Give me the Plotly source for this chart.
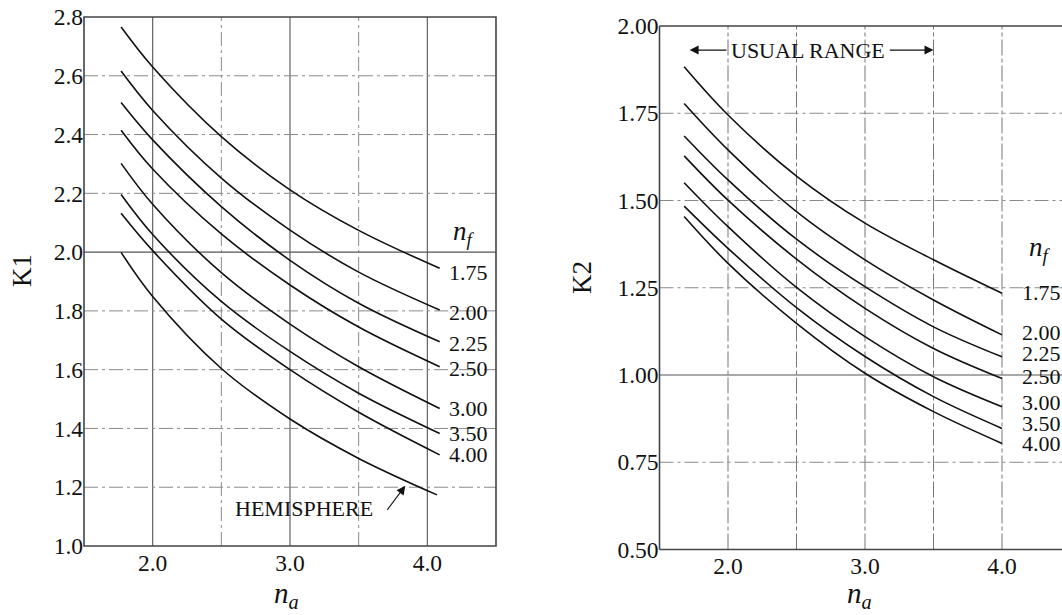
import plotly.graph_objects as go

# ---------------- data ----------------
nf_labels = ["1.75", "2.00", "2.25", "2.50", "3.00", "3.50", "4.00"]

# Left chart: K1 vs n_a
na_k1 = [1.77, 2.0, 2.5, 3.0, 3.5, 4.09]
k1_nf175 = [2.766, 2.630, 2.393, 2.212, 2.074, 1.945]
k1_nf200 = [2.616, 2.482, 2.252, 2.075, 1.932, 1.803]
k1_nf225 = [2.509, 2.382, 2.155, 1.972, 1.826, 1.695]
k1_nf250 = [2.415, 2.283, 2.062, 1.888, 1.745, 1.610]
k1_nf300 = [2.302, 2.163, 1.930, 1.755, 1.610, 1.468]
k1_nf350 = [2.196, 2.060, 1.832, 1.662, 1.520, 1.383]
k1_nf400 = [2.132, 2.005, 1.772, 1.600, 1.455, 1.310]
na_hemi = [1.77, 2.0, 2.5, 3.0, 3.5, 4.07]
k1_hemi = [1.999, 1.849, 1.604, 1.432, 1.298, 1.174]

# Right chart: K2 vs n_a
na_k2 = [1.68, 2.0, 2.5, 3.0, 3.5, 4.0]
k2_nf175 = [1.883, 1.745, 1.570, 1.435, 1.330, 1.234]
k2_nf200 = [1.778, 1.645, 1.468, 1.330, 1.215, 1.115]
k2_nf225 = [1.685, 1.559, 1.389, 1.253, 1.138, 1.052]
k2_nf250 = [1.628, 1.501, 1.332, 1.191, 1.076, 0.990]
k2_nf300 = [1.551, 1.425, 1.251, 1.110, 0.995, 0.909]
k2_nf350 = [1.484, 1.363, 1.193, 1.053, 0.938, 0.847]
k2_nf400 = [1.454, 1.320, 1.148, 1.005, 0.895, 0.804]

x_ticks = [2.0, 3.0, 4.0]
k1_ticks = [1.0, 1.2, 1.4, 1.6, 1.8, 2.0, 2.2, 2.4, 2.6, 2.8]
k2_ticks = [0.50, 0.75, 1.00, 1.25, 1.50, 1.75, 2.00]

k1_series = [k1_nf175, k1_nf200, k1_nf225, k1_nf250, k1_nf300, k1_nf350, k1_nf400]
k2_series = [k2_nf175, k2_nf200, k2_nf225, k2_nf250, k2_nf300, k2_nf350, k2_nf400]

# ---------------- styling / layout ----------------
FONT = "Liberation Serif"
INK = "#111111"
W, H = 1062, 615

label_y_k1 = [1.932, 1.793, 1.690, 1.605, 1.469, 1.384, 1.310]
label_y_k2 = [1.235, 1.123, 1.063, 0.997, 0.920, 0.862, 0.805]

fig = go.Figure()

line_style = dict(color=INK, width=1.6, shape="spline", smoothing=1.0)
for ys, lab in zip(k1_series, nf_labels):
    fig.add_trace(go.Scatter(x=na_k1, y=ys, mode="lines", line=line_style,
                             name=lab, xaxis="x", yaxis="y", showlegend=False,
                             hoverinfo="skip"))
fig.add_trace(go.Scatter(x=na_hemi, y=k1_hemi, mode="lines", line=line_style,
                         name="Hemisphere", xaxis="x", yaxis="y",
                         showlegend=False, hoverinfo="skip"))
for ys, lab in zip(k2_series, nf_labels):
    fig.add_trace(go.Scatter(x=na_k2, y=ys, mode="lines", line=line_style,
                             name=lab, xaxis="x2", yaxis="y2", showlegend=False,
                             hoverinfo="skip"))

# axes geometry
x1_dom = [84 / W, 496 / W]
y1_dom = [1 - 546 / H, 1 - 17 / H]
x2_dom = [659.5 / W, 1.0]
y2_dom = [1 - 549.5 / H, 1 - 26 / H]
x2_max = 1.5 + 402.5 / 137.0

tickfont = dict(family=FONT, size=23.5, color=INK)
common = dict(showgrid=False, zeroline=False, ticks="", automargin=False,
              tickfont=tickfont, showline=False)

fig.update_layout(
    width=W, height=H,
    margin=dict(l=0, r=0, t=0, b=0),
    paper_bgcolor="white", plot_bgcolor="white",
    xaxis=dict(domain=x1_dom, range=[1.5, 4.5], anchor="y",
               tickvals=x_ticks, ticktext=[f"{v:.1f}" for v in x_ticks], **common),
    yaxis=dict(domain=y1_dom, range=[1.0, 2.8], anchor="x",
               tickvals=k1_ticks, ticktext=[f"{v:.1f}" for v in k1_ticks], **common),
    xaxis2=dict(domain=x2_dom, range=[1.5, x2_max], anchor="y2",
                tickvals=x_ticks, ticktext=[f"{v:.1f}" for v in x_ticks], **common),
    yaxis2=dict(domain=y2_dom, range=[0.5, 2.0], anchor="x2",
                tickvals=k2_ticks, ticktext=[f"{v:.2f}" for v in k2_ticks], **common),
)

shapes = []
SOLID = dict(color="#555555", width=1.1)
DASH = dict(color="#8a8a8a", width=1, dash="14px,4px,3px,4px")

# left chart grid
for xv in [2.0, 2.5, 3.0, 3.5, 4.0]:
    st = SOLID if xv in (2.0, 3.0, 4.0) else DASH
    shapes.append(dict(type="line", xref="x", yref="y", x0=xv, x1=xv, y0=1.0, y1=2.8,
                       line=st, layer="below"))
for yv in [1.2, 1.4, 1.6, 1.8, 2.0, 2.2, 2.4, 2.6]:
    st = SOLID if abs(yv - 2.0) < 1e-9 else DASH
    shapes.append(dict(type="line", xref="x", yref="y", x0=1.5, x1=4.5, y0=yv, y1=yv,
                       line=st, layer="below"))
shapes.append(dict(type="rect", xref="x domain", yref="y domain", x0=0, x1=1, y0=0, y1=1,
                   line=dict(color="#444444", width=1.6), layer="above"))

# right chart grid
for xv in [2.0, 2.5, 3.0, 3.5, 4.0]:
    shapes.append(dict(type="line", xref="x2", yref="y2", x0=xv, x1=xv, y0=0.5, y1=2.0,
                       line=dict(color="#777777", width=1, dash="16px,3px,4px,3px"),
                       layer="below"))
for yv in [0.75, 1.0, 1.25, 1.5, 1.75]:
    st = SOLID if abs(yv - 1.0) < 1e-9 else DASH
    shapes.append(dict(type="line", xref="x2", yref="y2", x0=1.5, x1=x2_max, y0=yv, y1=yv,
                       line=st, layer="below"))
border2 = dict(color="#444444", width=1.6)
shapes.append(dict(type="line", xref="x2 domain", yref="y2 domain", x0=0, x1=0, y0=0, y1=1, line=border2))
shapes.append(dict(type="line", xref="x2 domain", yref="y2 domain", x0=0, x1=1, y0=0, y1=0, line=border2))
shapes.append(dict(type="line", xref="x2 domain", yref="y2 domain", x0=0, x1=1, y0=1, y1=1, line=border2))
fig.update_layout(shapes=shapes)

ann = []
lab_font = dict(family=FONT, size=22, color=INK)
for lab, yv in zip(nf_labels, label_y_k1):
    ann.append(dict(x=4.14, y=yv, xref="x", yref="y", text=lab, showarrow=False,
                    xanchor="left", yanchor="middle", font=lab_font))
for lab, yv in zip(nf_labels, label_y_k2):
    ann.append(dict(x=4.13, y=yv, xref="x2", yref="y2", text=lab, showarrow=False,
                    xanchor="left", yanchor="middle", font=lab_font))

nf_text = "<i>n</i><sub><i>f</i></sub>"
ann.append(dict(x=4.17, y=2.065, xref="x", yref="y", text=nf_text, showarrow=False,
                xanchor="left", yanchor="middle", font=dict(family=FONT, size=27, color=INK)))
ann.append(dict(x=4.18, y=1.36, xref="x2", yref="y2", text=nf_text, showarrow=False,
                xanchor="left", yanchor="middle", font=dict(family=FONT, size=27, color=INK)))

# HEMISPHERE label + arrow
ann.append(dict(x=3.105, y=1.129, xref="x", yref="y", text="HEMISPHERE", showarrow=False,
                xanchor="center", yanchor="middle", font=lab_font))
ann.append(dict(x=3.84, y=1.205, xref="x", yref="y", ax=3.70, ay=1.118, axref="x", ayref="y",
                text="", showarrow=True, arrowhead=2, arrowsize=1.6, arrowwidth=1.1,
                arrowcolor=INK))

# USUAL RANGE label + arrows
ann.append(dict(x=2.585, y=1.931, xref="x2", yref="y2", text="USUAL RANGE", showarrow=False,
                xanchor="center", yanchor="middle", font=lab_font))
ann.append(dict(x=1.72, y=1.931, xref="x2", yref="y2", ax=2.0, ay=1.931, axref="x2", ayref="y2",
                text="", showarrow=True, arrowhead=2, arrowsize=1.5, arrowwidth=1.2,
                arrowcolor=INK))
ann.append(dict(x=3.5, y=1.931, xref="x2", yref="y2", ax=3.17, ay=1.931, axref="x2", ayref="y2",
                text="", showarrow=True, arrowhead=2, arrowsize=1.5, arrowwidth=1.2,
                arrowcolor=INK))

# axis titles
title_font = dict(family=FONT, size=27, color=INK)
ann.append(dict(x=22 / W, y=1 - 271 / H, xref="paper", yref="paper", text="K1",
                textangle=-90, showarrow=False, xanchor="center", yanchor="middle",
                font=title_font))
ann.append(dict(x=582 / W, y=1 - 277 / H, xref="paper", yref="paper", text="K2",
                textangle=-90, showarrow=False, xanchor="center", yanchor="middle",
                font=title_font))
na_text = "<i>n</i><sub><i>a</i></sub>"
ann.append(dict(x=286 / W, y=1 - 595 / H, xref="paper", yref="paper", text=na_text,
                showarrow=False, xanchor="center", yanchor="middle",
                font=dict(family=FONT, size=29, color=INK)))
ann.append(dict(x=859 / W, y=1 - 595 / H, xref="paper", yref="paper", text=na_text,
                showarrow=False, xanchor="center", yanchor="middle",
                font=dict(family=FONT, size=29, color=INK)))

fig.update_layout(annotations=ann)

fig.write_html("out.html")
